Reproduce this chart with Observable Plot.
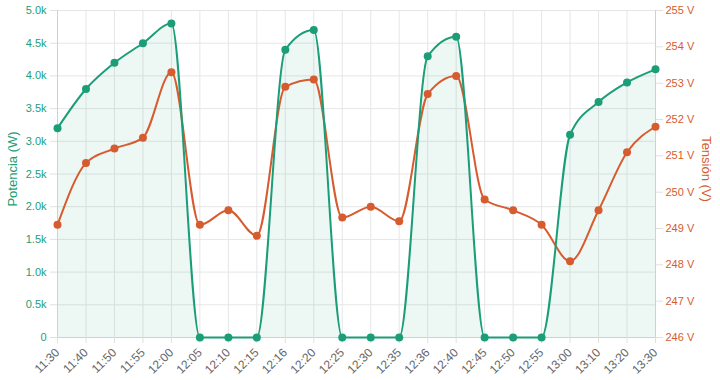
<!DOCTYPE html>
<html><head><meta charset="utf-8">
<script src="https://cdn.jsdelivr.net/npm/d3@7"></script>
<script src="https://cdn.jsdelivr.net/npm/@observablehq/plot@0.6"></script>
<style>body{margin:0;background:#fff;font-family:"Liberation Sans",Arial,sans-serif}</style>
</head><body><div id="chart"></div>
<script>
const times = ["11:30","11:40","11:50","11:55","12:00","12:05","12:10","12:15","12:16","12:20","12:25","12:30","12:35","12:36","12:40","12:45","12:50","12:55","13:00","13:10","13:20","13:30"];
const potencia = [3200,3800,4200,4500,4800,0,0,0,4400,4700,0,0,0,4300,4600,0,0,0,3100,3600,3900,4100];
const tension = [249.1,250.8,251.2,251.5,253.3,249.1,249.5,248.8,252.9,253.1,249.3,249.6,249.2,252.7,253.2,249.8,249.5,249.1,248.1,249.5,251.1,251.8];
const powerTicks = [0,500,1000,1500,2000,2500,3000,3500,4000,4500,5000];
const voltTicks = [246,247,248,249,250,251,252,253,254,255];
const labelPotencia = "Potencia (W)";
const labelTension = "Tensión (V)";

const green = "#1b9e77", orange = "#d65c30";
const vMin = 246, vMax = 255, pMax = 5000;
const toP = v => (v - vMin) / (vMax - vMin) * pMax;
const fromP = p => Math.round(p / pMax * (vMax - vMin) + vMin);
const data = times.map((t, i) => ({t, p: potencia[i], v: toP(tension[i])}));

const chart = Plot.plot({
  width: 720, height: 380,
  marginLeft: 57, marginRight: 65, marginTop: 10, marginBottom: 43,
  style: {fontFamily: '"Liberation Sans", Arial, sans-serif', fontSize: "11px", background: "#fff"},
  x: {type: "point", domain: times, padding: 0, round: false},
  y: {domain: [0, 5000]},
  marks: [
    Plot.gridX(times, {stroke: "#e6e6e6", strokeOpacity: 1}),
    Plot.gridY(powerTicks, {stroke: "#e6e6e6", strokeOpacity: 1}),
    Plot.areaY(data, {x: "t", y: "p", curve: "monotone-x", fill: green, fillOpacity: 0.08}),
    Plot.ruleY([0], {stroke: "#d0d0d0"}),
    Plot.ruleX([times[0], times[times.length - 1]], {stroke: "#d0d0d0"}),
    Plot.axisX(times, {tickRotate: -45, tickSize: 6, tickPadding: 7, stroke: "#e0e0e0", fill: "#666", label: null, fontSize: 12}),
    Plot.axisY(powerTicks, {anchor: "left", tickSize: 7, tickPadding: 4, stroke: "#e0e0e0", fill: green, fontSize: 11,
      tickFormat: d => d === 0 ? "0" : (d / 1000).toFixed(1) + "k", label: null}),
    Plot.axisY(voltTicks.map(toP), {anchor: "right", tickSize: 7, tickPadding: 3, stroke: "#e0e0e0", fill: orange, fontSize: 11,
      tickFormat: d => fromP(d) + " V", label: null}),
    Plot.line(data, {x: "t", y: "v", curve: "monotone-x", stroke: orange, strokeWidth: 2}),
    Plot.dot(data, {x: "t", y: "v", r: 4, fill: orange}),
    Plot.line(data, {x: "t", y: "p", curve: "monotone-x", stroke: green, strokeWidth: 2}),
    Plot.dot(data, {x: "t", y: "p", r: 4, fill: green}),
    Plot.text([labelPotencia], {frameAnchor: "left", textAnchor: "middle", rotate: -90, dx: -45, dy: -5, fill: green, fontSize: 13}),
    Plot.text([labelTension], {frameAnchor: "right", textAnchor: "middle", rotate: 90, dx: 51, dy: -5, fill: orange, fontSize: 13})
  ]
});
document.getElementById("chart").append(chart);
</script></body></html>
